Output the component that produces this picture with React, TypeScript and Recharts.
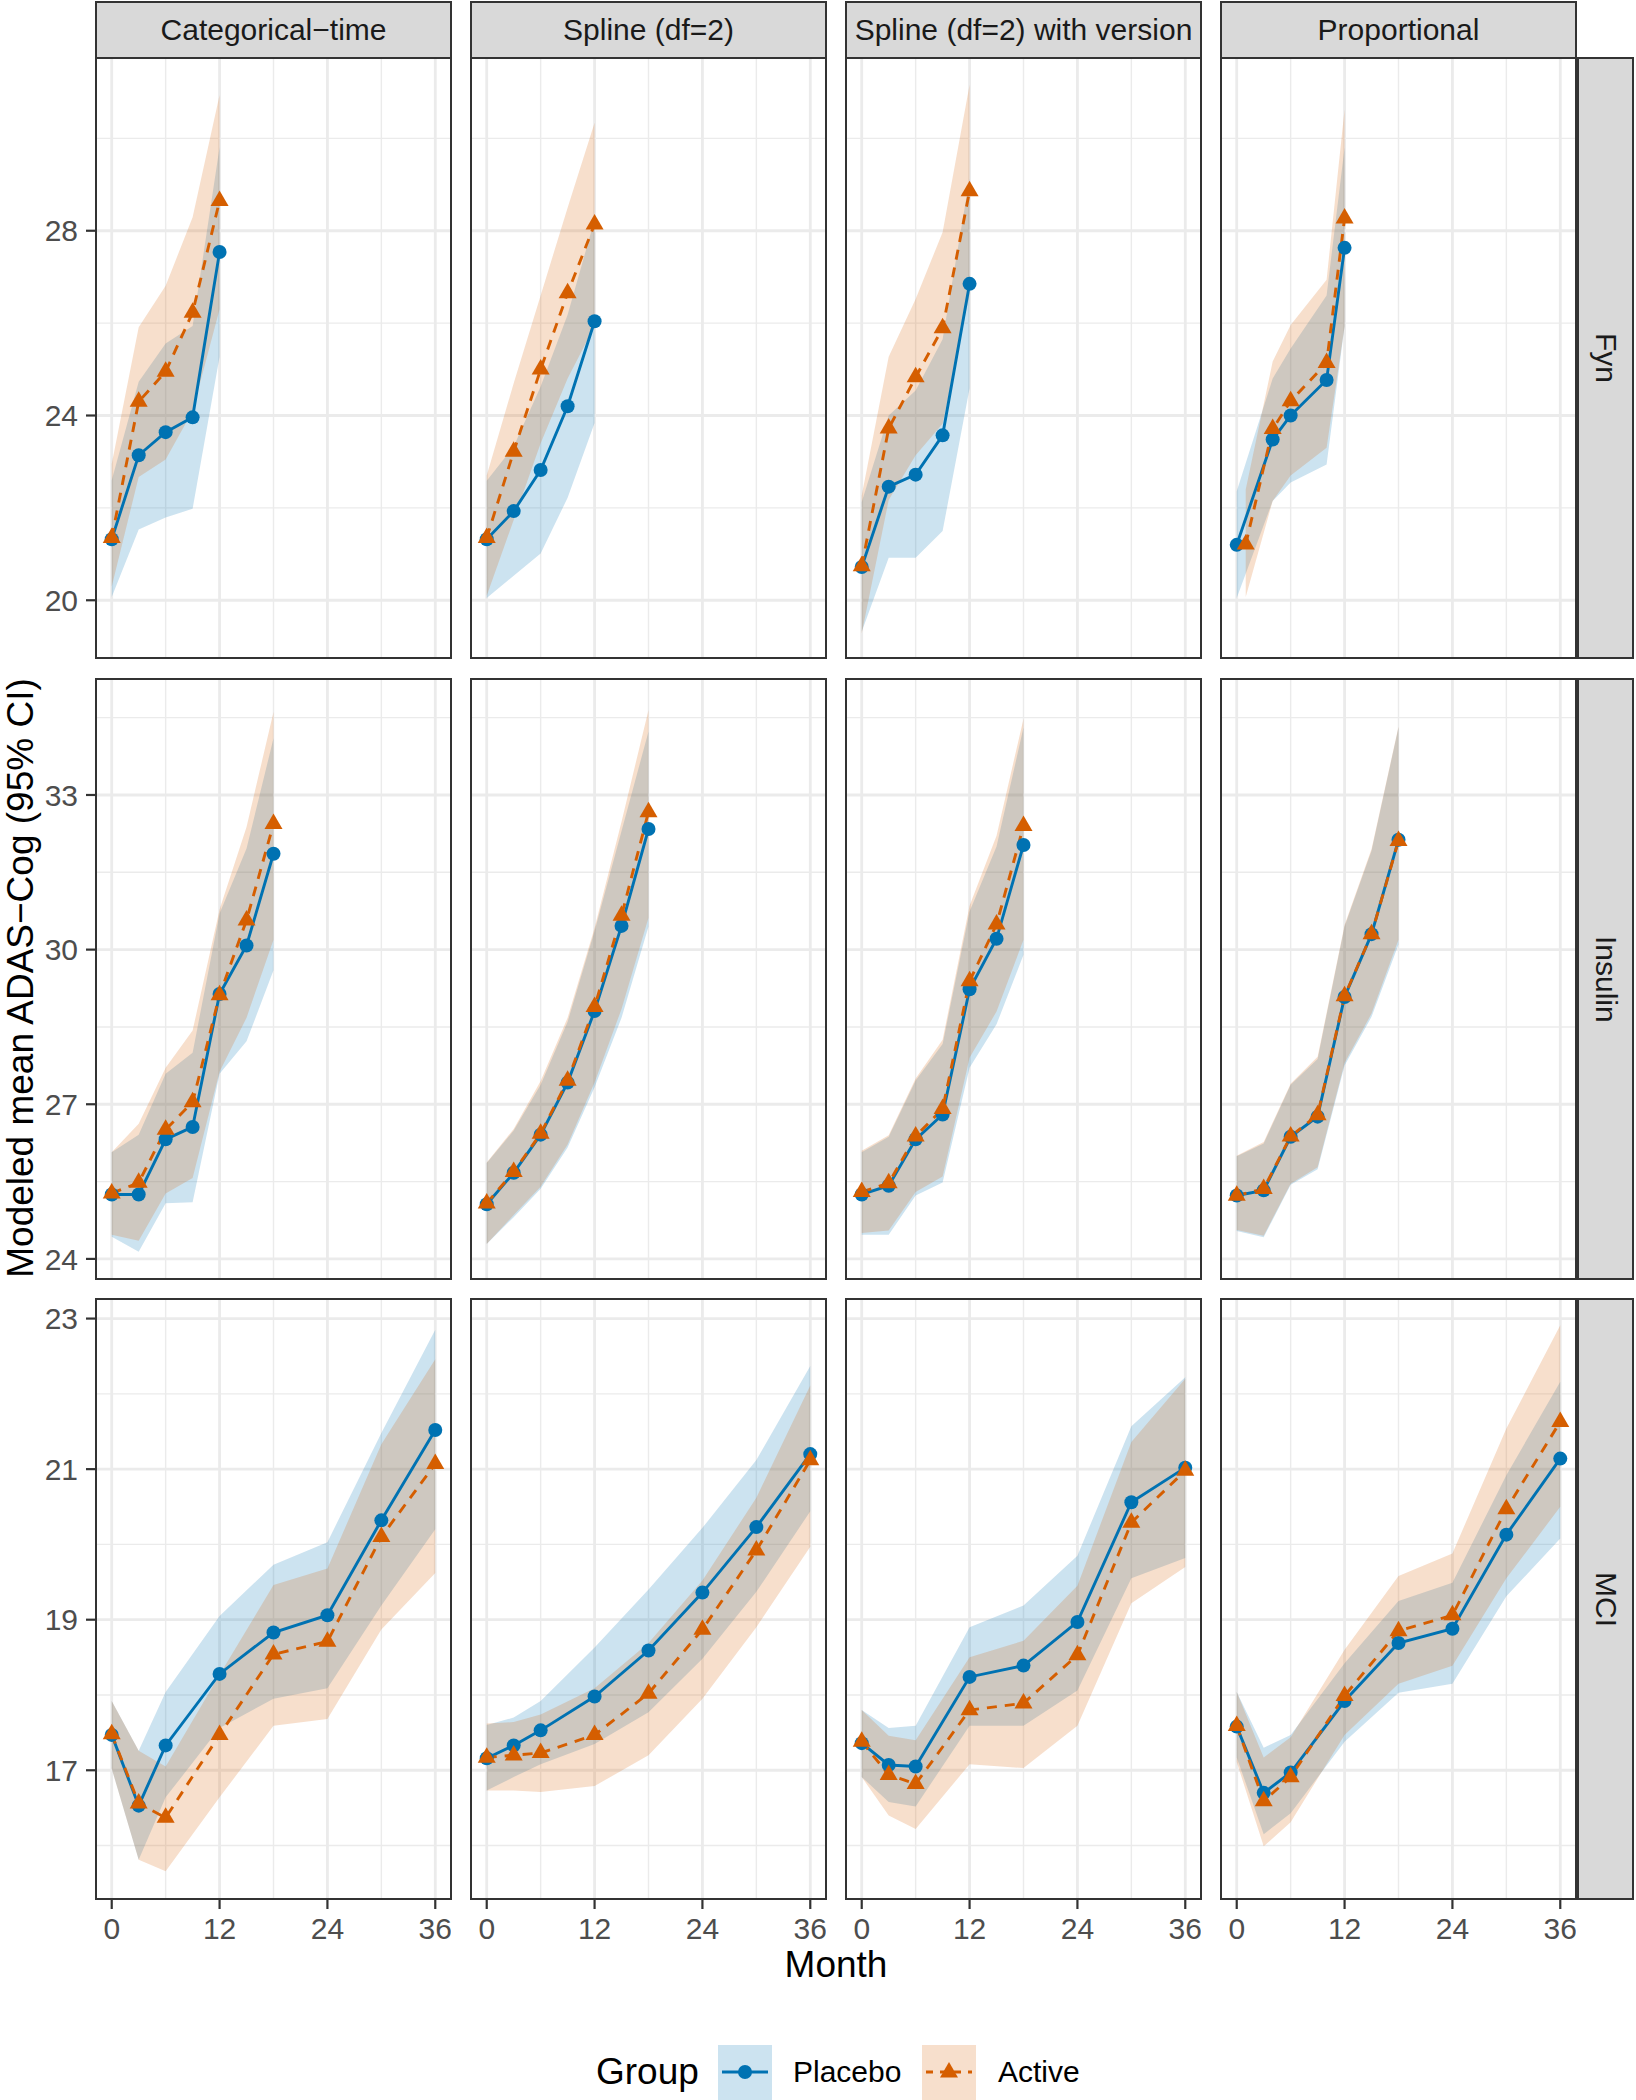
import { ComposedChart, Area, Line, XAxis, YAxis, CartesianGrid } from "recharts"

const FONT = '"Liberation Sans", Arial, Helvetica, sans-serif'
const BLUE = "#0072B2"
const ORANGE = "#D55E00"

const models = ["Categorical\u2212time", "Spline (df=2)", "Spline (df=2) with version", "Proportional"]
const outcomes = ["Fyn", "Insulin", "MCI"]

const monthTicks = [0, 12, 24, 36]
const monthMinor = [6, 18, 30]

const fynMonths = [0, 3, 6, 9, 12]
const fynPropPlaceboMonths = [0, 4, 6, 10, 12]
const fynPropActiveMonths = [1, 4, 6, 10, 12]
const insulinMonths = [0, 3, 6, 9, 12, 15, 18]
const mciMonths = [0, 3, 6, 12, 18, 24, 30, 36]

const yTicks = [[20, 24, 28], [24, 27, 30, 33], [17, 19, 21, 23]]
const yMinor = [[22, 26, 30], [25.5, 28.5, 31.5, 34.5], [16, 18, 20, 22]]
const yDomains = [[18.75, 31.74], [23.61, 35.25], [15.29, 23.26]]

// each entry: [mean, lower, upper]
const fynCatPlacebo = [[21.32, 20.07, 22.6], [23.14, 21.53, 24.73], [23.64, 21.79, 25.56], [23.96, 21.98, 25.94], [27.54, 25.27, 29.81]]
const fynCatActive = [[21.35, 20.3, 22.95], [24.3, 22.67, 25.91], [24.95, 23.05, 26.81], [26.23, 24.1, 28.29], [28.65, 26.3, 30.94]]
const fynSplPlacebo = [[21.32, 20.05, 22.59], [21.93, 20.53, 23.33], [22.82, 21.01, 24.63], [24.2, 22.22, 26.18], [26.04, 23.84, 28.24]]
const fynSplActive = [[21.35, 20.1, 22.7], [23.22, 21.74, 24.7], [25.0, 23.4, 26.6], [26.65, 24.8, 28.5], [28.14, 25.94, 30.34]]
const fynVerPlacebo = [[20.72, 19.32, 22.13], [22.46, 20.92, 24.0], [22.72, 20.92, 24.54], [23.57, 21.5, 25.65], [26.85, 24.59, 29.13]]
const fynVerActive = [[20.74, 19.28, 22.27], [23.72, 22.17, 25.27], [24.83, 23.14, 26.52], [25.89, 23.82, 27.97], [28.86, 26.62, 31.16]]
const fynPropPlacebo = [[21.2, 20.05, 22.36], [23.48, 22.15, 24.8], [24.0, 22.55, 25.45], [24.77, 22.94, 26.6], [27.63, 25.93, 29.8]]
const fynPropActive = [[21.21, 20.07, 22.4], [23.71, 22.15, 25.17], [24.31, 22.7, 25.96], [25.14, 23.3, 26.94], [28.27, 25.93, 30.63]]

const insCatPlacebo = [[25.25, 24.43, 26.07], [25.25, 24.14, 26.41], [26.32, 25.08, 27.59], [26.56, 25.1, 28.0], [29.14, 27.59, 30.7], [30.08, 28.22, 31.96], [31.86, 29.6, 34.1]]
const insCatActive = [[25.27, 24.47, 26.07], [25.48, 24.35, 26.62], [26.51, 25.27, 27.71], [27.04, 25.57, 28.43], [29.12, 27.63, 30.78], [30.57, 28.68, 32.38], [32.44, 30.19, 34.61]]
const insSplPlacebo = [[25.06, 24.29, 25.86], [25.67, 24.81, 26.49], [26.41, 25.36, 27.38], [27.42, 26.16, 28.6], [28.81, 27.33, 30.36], [30.46, 28.68, 32.3], [32.34, 30.45, 34.23]]
const insSplActive = [[25.08, 24.29, 25.87], [25.69, 24.85, 26.52], [26.43, 25.4, 27.45], [27.46, 26.22, 28.68], [28.89, 27.42, 30.42], [30.66, 28.85, 32.48], [32.67, 30.62, 34.65]]
const insVerPlacebo = [[25.25, 24.47, 26.07], [25.42, 24.47, 26.37], [26.32, 25.23, 27.46], [26.8, 25.48, 28.17], [29.23, 27.71, 30.74], [30.21, 28.55, 32.0], [32.03, 29.9, 34.31]]
const insVerActive = [[25.3, 24.5, 26.1], [25.47, 24.55, 26.4], [26.38, 25.3, 27.5], [26.91, 25.6, 28.25], [29.39, 27.9, 30.85], [30.49, 28.8, 32.21], [32.4, 30.19, 34.48]]
const insPropPlacebo = [[25.23, 24.54, 25.99], [25.33, 24.42, 26.24], [26.37, 25.44, 27.38], [26.76, 25.74, 27.88], [29.08, 27.75, 30.45], [30.3, 28.7, 31.92], [32.13, 30.1, 34.31]]
const insPropActive = [[25.23, 24.56, 26.0], [25.36, 24.45, 26.27], [26.38, 25.46, 27.4], [26.79, 25.78, 27.92], [29.1, 27.8, 30.48], [30.3, 28.76, 31.95], [32.11, 30.19, 34.33]]

const mciCatPlacebo = [[17.47, 17.02, 17.92], [16.53, 15.81, 17.26], [17.33, 16.64, 18.04], [18.28, 17.56, 19.05], [18.83, 17.95, 19.73], [19.06, 18.09, 20.03], [20.32, 19.19, 21.48], [21.52, 20.2, 22.85]]
const mciCatActive = [[17.48, 17.02, 17.92], [16.56, 15.81, 17.26], [16.37, 15.66, 17.05], [17.47, 16.64, 18.27], [18.54, 17.59, 19.46], [18.71, 17.68, 19.68], [20.1, 18.87, 21.33], [21.07, 19.62, 22.46]]
const mciSplPlacebo = [[17.16, 16.73, 17.6], [17.33, 16.91, 17.7], [17.53, 17.08, 17.92], [17.98, 17.35, 18.63], [18.59, 17.77, 19.4], [19.36, 18.48, 20.22], [20.23, 19.37, 21.12], [21.2, 20.44, 22.37]]
const mciSplActive = [[17.17, 16.73, 17.62], [17.2, 16.73, 17.64], [17.23, 16.71, 17.74], [17.47, 16.79, 18.09], [18.02, 17.2, 18.69], [18.87, 17.95, 19.52], [19.92, 18.9, 20.62], [21.12, 19.97, 22.11]]
const mciVerPlacebo = [[17.36, 16.91, 17.8], [17.07, 16.58, 17.56], [17.05, 16.52, 17.59], [18.24, 17.59, 18.9], [18.39, 17.59, 19.19], [18.97, 18.06, 19.85], [20.56, 19.55, 21.57], [21.02, 19.82, 22.22]]
const mciVerActive = [[17.38, 16.91, 17.8], [16.94, 16.4, 17.46], [16.82, 16.22, 17.4], [17.8, 17.08, 18.5], [17.89, 17.03, 18.72], [18.53, 17.59, 19.45], [20.29, 19.22, 21.36], [20.98, 19.7, 22.2]]
const mciPropPlacebo = [[17.58, 17.17, 18.04], [16.7, 16.15, 17.3], [16.97, 16.43, 17.47], [17.92, 17.38, 18.42], [18.69, 18.03, 19.25], [18.88, 18.15, 19.49], [20.13, 19.31, 20.92], [21.14, 20.08, 22.16]]
const mciPropActive = [[17.59, 17.11, 18.04], [16.59, 15.99, 17.17], [16.91, 16.31, 17.44], [17.99, 17.47, 18.6], [18.85, 18.15, 19.58], [19.06, 18.39, 19.88], [20.47, 19.55, 21.54], [21.63, 20.5, 22.91]]

type Pt = { x: number; y: number; band: [number, number] }
const toRows = (months: number[], vals: number[][]): Pt[] =>
  months.map((m, i) => ({ x: m, y: vals[i][0], band: [vals[i][1], vals[i][2]] }))

const panels = [
  { row: 0, col: 0, placebo: toRows(fynMonths, fynCatPlacebo), active: toRows(fynMonths, fynCatActive) },
  { row: 0, col: 1, placebo: toRows(fynMonths, fynSplPlacebo), active: toRows(fynMonths, fynSplActive) },
  { row: 0, col: 2, placebo: toRows(fynMonths, fynVerPlacebo), active: toRows(fynMonths, fynVerActive) },
  { row: 0, col: 3, placebo: toRows(fynPropPlaceboMonths, fynPropPlacebo), active: toRows(fynPropActiveMonths, fynPropActive) },
  { row: 1, col: 0, placebo: toRows(insulinMonths, insCatPlacebo), active: toRows(insulinMonths, insCatActive) },
  { row: 1, col: 1, placebo: toRows(insulinMonths, insSplPlacebo), active: toRows(insulinMonths, insSplActive) },
  { row: 1, col: 2, placebo: toRows(insulinMonths, insVerPlacebo), active: toRows(insulinMonths, insVerActive) },
  { row: 1, col: 3, placebo: toRows(insulinMonths, insPropPlacebo), active: toRows(insulinMonths, insPropActive) },
  { row: 2, col: 0, placebo: toRows(mciMonths, mciCatPlacebo), active: toRows(mciMonths, mciCatActive) },
  { row: 2, col: 1, placebo: toRows(mciMonths, mciSplPlacebo), active: toRows(mciMonths, mciSplActive) },
  { row: 2, col: 2, placebo: toRows(mciMonths, mciVerPlacebo), active: toRows(mciMonths, mciVerActive) },
  { row: 2, col: 3, placebo: toRows(mciMonths, mciPropPlacebo), active: toRows(mciMonths, mciPropActive) },
]

// layout
const COL_LEFT = [96, 471, 846, 1221]
const ROW_TOP = [58, 679, 1299]
const PW = 355
const PH = 600
const YAXIS_W = 96
const XAXIS_H = 62
const X_DOMAIN = [-1.75, 37.75]

const circleDot = (p: any) => (
  <circle key={`c${p.index}`} cx={p.cx} cy={p.cy} r={7} fill={BLUE} />
)

const triDot = (p: any) => {
  const h = 15.5
  return (
    <path
      key={`t${p.index}`}
      d={`M${p.cx},${p.cy - (2 * h) / 3} L${p.cx + 9},${p.cy + h / 3} L${p.cx - 9},${p.cy + h / 3} Z`}
      fill={ORANGE}
    />
  )
}

function Panel({ row, col, placebo, active }: { row: number; col: number; placebo: Pt[]; active: Pt[] }) {
  const showY = col === 0
  const showX = row === 2
  const left = showY ? COL_LEFT[col] - YAXIS_W : COL_LEFT[col]
  const width = PW + (showY ? YAXIS_W : 0)
  const height = PH + (showX ? XAXIS_H : 0)

  return (
    <>
      <div style={{ position: "absolute", left, top: ROW_TOP[row], width, height }}>
        <ComposedChart width={width} height={height} margin={{ top: 0, right: 0, bottom: 0, left: 0 }}>
          <CartesianGrid
            verticalValues={monthMinor}
            horizontalValues={yMinor[row]}
            stroke="#EBEBEB"
            strokeWidth={1.4}
          />
          <CartesianGrid
            verticalValues={monthTicks}
            horizontalValues={yTicks[row]}
            stroke="#EBEBEB"
            strokeWidth={2.8}
          />
          <XAxis
            dataKey="x"
            type="number"
            domain={X_DOMAIN}
            ticks={monthTicks}
            interval={0}
            allowDataOverflow
            hide={!showX}
            height={XAXIS_H}
            axisLine={false}
            tickSize={10}
            tickMargin={9}
            tickLine={{ stroke: "#333333", strokeWidth: 2.2 }}
            tick={{ fill: "#4D4D4D", fontSize: 30, fontFamily: FONT }}
          />
          <YAxis
            type="number"
            domain={yDomains[row]}
            ticks={yTicks[row]}
            interval={0}
            allowDataOverflow
            hide={!showY}
            width={YAXIS_W}
            axisLine={false}
            tickSize={10}
            tickMargin={8}
            tickLine={{ stroke: "#333333", strokeWidth: 2.2 }}
            tick={{ fill: "#4D4D4D", fontSize: 30, fontFamily: FONT }}
          />
          <Area
            data={placebo}
            dataKey="band"
            type="linear"
            stroke="none"
            fill={BLUE}
            fillOpacity={0.2}
            isAnimationActive={false}
          />
          <Line
            data={placebo}
            dataKey="y"
            type="linear"
            stroke={BLUE}
            strokeWidth={2.9}
            dot={circleDot}
            activeDot={false}
            isAnimationActive={false}
          />
          <Area
            data={active}
            dataKey="band"
            type="linear"
            stroke="none"
            fill={ORANGE}
            fillOpacity={0.2}
            isAnimationActive={false}
          />
          <Line
            data={active}
            dataKey="y"
            type="linear"
            stroke={ORANGE}
            strokeWidth={2.9}
            strokeDasharray="10 8"
            dot={triDot}
            activeDot={false}
            isAnimationActive={false}
          />
        </ComposedChart>
      </div>
      <div
        style={{
          position: "absolute",
          left: COL_LEFT[col] - 1,
          top: ROW_TOP[row] - 1,
          width: PW + 2,
          height: PH + 2,
          border: "2px solid #333333",
          boxSizing: "border-box",
          pointerEvents: "none",
        }}
      />
    </>
  )
}

export default function App() {
  return (
    <div
      style={{
        position: "absolute",
        left: 0,
        top: 0,
        width: 1636,
        height: 2100,
        background: "#ffffff",
        fontFamily: FONT,
        overflow: "hidden",
      }}
    >
      {panels.map((p) => (
        <Panel key={`${p.row}-${p.col}`} {...p} />
      ))}

      {/* column strips */}
      {models.map((m, i) => (
        <div
          key={m}
          style={{
            position: "absolute",
            left: COL_LEFT[i] - 1,
            top: 1,
            width: PW + 2,
            height: 58,
            background: "#D9D9D9",
            border: "2px solid #333333",
            boxSizing: "border-box",
            display: "flex",
            alignItems: "center",
            justifyContent: "center",
            fontSize: 30,
            color: "#1A1A1A",
            whiteSpace: "nowrap",
          }}
        >
          {m}
        </div>
      ))}

      {/* row strips */}
      {outcomes.map((o, i) => (
        <div
          key={o}
          style={{
            position: "absolute",
            left: 1577,
            top: ROW_TOP[i] - 1,
            width: 57,
            height: PH + 2,
            background: "#D9D9D9",
            border: "2px solid #333333",
            boxSizing: "border-box",
            display: "flex",
            alignItems: "center",
            justifyContent: "center",
            fontSize: 30,
            color: "#1A1A1A",
          }}
        >
          <span style={{ writingMode: "vertical-rl" }}>{o}</span>
        </div>
      ))}

      {/* axis titles */}
      <div
        style={{
          position: "absolute",
          left: 20,
          top: 978,
          transform: "translate(-50%, -50%) rotate(-90deg)",
          whiteSpace: "nowrap",
          fontSize: 37,
          lineHeight: 1,
          color: "#000000",
        }}
      >
        Modeled mean ADAS{"\u2212"}Cog (95% CI)
      </div>
      <div
        style={{
          position: "absolute",
          left: 836,
          top: 1965,
          transform: "translate(-50%, -50%)",
          whiteSpace: "nowrap",
          fontSize: 37,
          color: "#000000",
        }}
      >
        Month
      </div>

      {/* legend */}
      <div
        style={{
          position: "absolute",
          left: 596,
          top: 2072,
          transform: "translateY(-50%)",
          fontSize: 37,
          color: "#000000",
        }}
      >
        Group
      </div>
      <div style={{ position: "absolute", left: 718, top: 2045, width: 54, height: 55, background: "#CCE3F0" }}>
        <svg width={54} height={55}>
          <line x1={4} x2={50} y1={27} y2={27} stroke={BLUE} strokeWidth={3} />
          <circle cx={27} cy={27} r={7} fill={BLUE} />
        </svg>
      </div>
      <div
        style={{ position: "absolute", left: 793, top: 2072, transform: "translateY(-50%)", fontSize: 30, color: "#000000" }}
      >
        Placebo
      </div>
      <div style={{ position: "absolute", left: 922, top: 2045, width: 54, height: 55, background: "#F7DFCC" }}>
        <svg width={54} height={55}>
          <line x1={4} x2={50} y1={27} y2={27} stroke={ORANGE} strokeWidth={3} strokeDasharray="7 7" />
          <path d="M27,17 L36,32.5 L18,32.5 Z" fill={ORANGE} />
        </svg>
      </div>
      <div
        style={{ position: "absolute", left: 998, top: 2072, transform: "translateY(-50%)", fontSize: 30, color: "#000000" }}
      >
        Active
      </div>
    </div>
  )
}
